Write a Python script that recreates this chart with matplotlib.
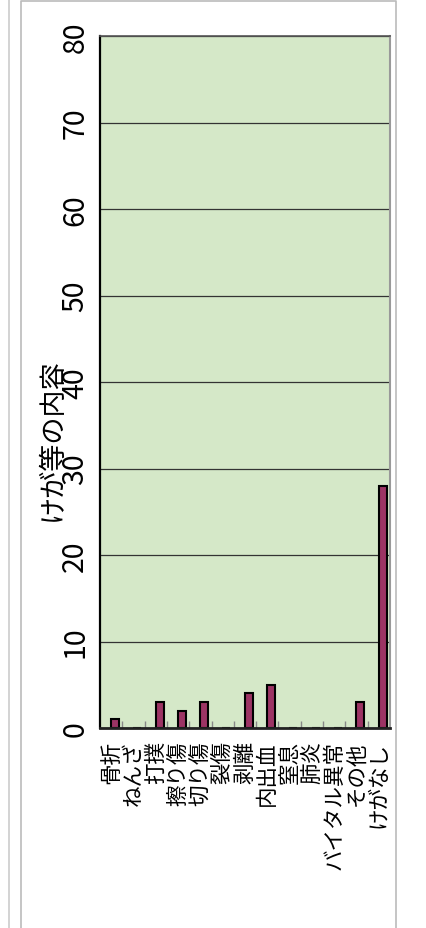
import matplotlib
matplotlib.use("Agg")
import matplotlib.pyplot as plt
import numpy as np
from matplotlib.lines import Line2D

plt.rcParams['font.family'] = ['Noto Sans CJK JP', 'DejaVu Sans']

categories = ["骨折", "ねんざ", "打撲", "擦り傷", "切り傷", "裂傷", "剥離",
              "内出血", "窒息", "肺炎", "バイタル異常", "その他", "けがなし"]
values = [1, 0, 3, 2, 3, 0, 4, 5, 0, 0, 0, 3, 28]
y_ticks = [0, 10, 20, 30, 40, 50, 60, 70, 80]
title = "けが等の内容"

fig = plt.figure(figsize=(4.27, 9.29), dpi=100)
ax = fig.add_axes([100/427, 1-729/929, 290/427, 692/929])
ax.set_facecolor("#D5E8C8")

x = np.arange(len(categories))
ax.bar(x + 0.17, values, width=0.36, color="#9C3464", edgecolor="black",
       linewidth=1.5, zorder=3)

ax.set_xlim(-0.5, len(categories) - 0.5)
ax.set_ylim(0, 80)
ax.set_yticks(y_ticks)
ax.set_yticklabels([str(v) for v in y_ticks], rotation=90, fontsize=20.5,
                   va='center')
ax.yaxis.grid(True, color="#333333", linewidth=0.9, zorder=1)
ax.set_axisbelow(True)
ax.tick_params(axis='y', length=0, pad=7)

ax.set_xticks(x)
ax.set_xticklabels(categories, rotation=90, fontsize=15.5)
ax.set_xticks(np.arange(0.5, len(categories) - 1, 1), minor=True)
ax.tick_params(axis='x', which='major', length=0, pad=9)
ax.tick_params(axis='x', which='minor', direction='in', length=5,
               color="#888888", width=1)

ax.spines['left'].set_linewidth(1.6)
ax.spines['left'].set_color('black')
ax.spines['bottom'].set_linewidth(2)
ax.spines['bottom'].set_color('#222222')
ax.spines['bottom'].set_zorder(4)
ax.spines['top'].set_linewidth(1.2)
ax.spines['top'].set_color('#555555')
ax.spines['right'].set_linewidth(1.5)
ax.spines['right'].set_color('#999999')

fig.text(52/427, 1-440/929, title, rotation=90, fontsize=19.5,
         ha='center', va='center')

# outer frame decorations
fig.add_artist(Line2D([8.5/427, 8.5/427], [0, 1], color="#cccccc", lw=1.2,
                      transform=fig.transFigure))
fig.add_artist(Line2D([21.5/427, 21.5/427, 396/427, 396/427], [0, 1-1.5/929, 1-1.5/929, 0],
                      color="#bbbbbb", lw=1.2, transform=fig.transFigure))

fig.savefig("out.png", dpi=100)
